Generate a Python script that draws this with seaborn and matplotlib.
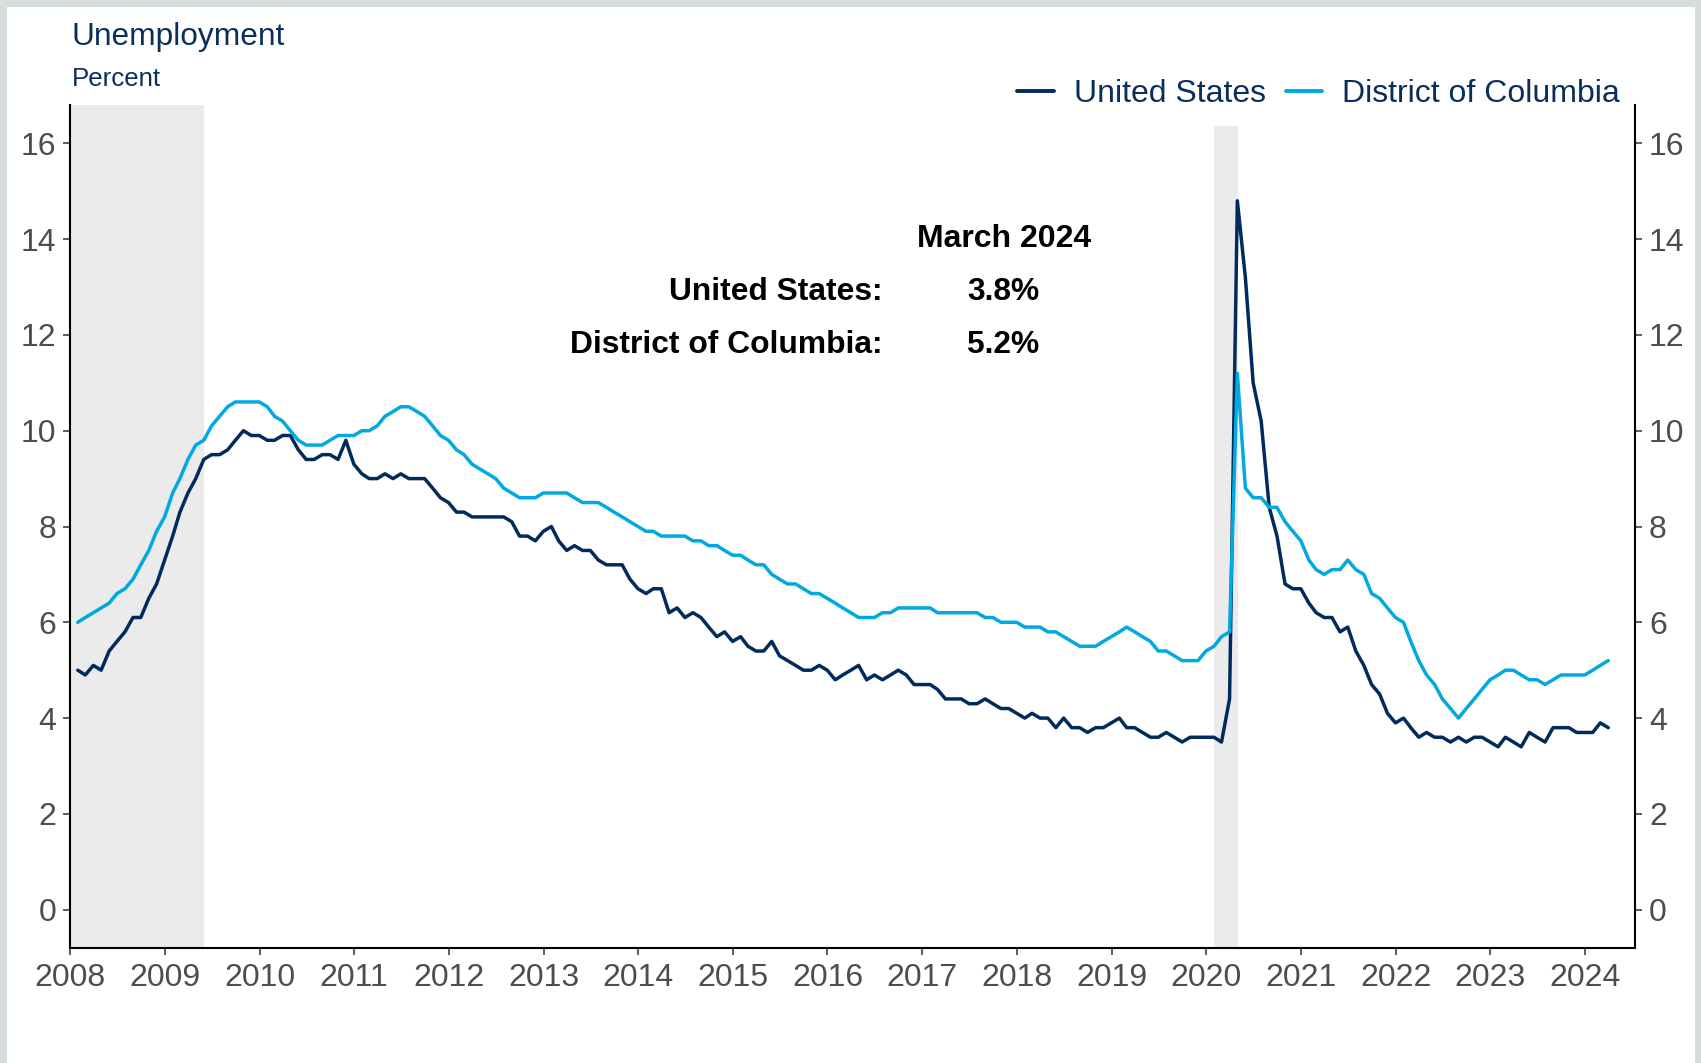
import numpy as np
import pandas as pd
import seaborn as sns
import matplotlib.pyplot as plt
from matplotlib.patches import Rectangle
import matplotlib.dates as mdates

# Monthly unemployment rate, percent, Jan 2008 - Mar 2024
us_rate = [
    5.0, 4.9, 5.1, 5.0, 5.4, 5.6, 5.8, 6.1, 6.1, 6.5, 6.8, 7.3,   # 2008
    7.8, 8.3, 8.7, 9.0, 9.4, 9.5, 9.5, 9.6, 9.8, 10.0, 9.9, 9.9,  # 2009
    9.8, 9.8, 9.9, 9.9, 9.6, 9.4, 9.4, 9.5, 9.5, 9.4, 9.8, 9.3,   # 2010
    9.1, 9.0, 9.0, 9.1, 9.0, 9.1, 9.0, 9.0, 9.0, 8.8, 8.6, 8.5,   # 2011
    8.3, 8.3, 8.2, 8.2, 8.2, 8.2, 8.2, 8.1, 7.8, 7.8, 7.7, 7.9,   # 2012
    8.0, 7.7, 7.5, 7.6, 7.5, 7.5, 7.3, 7.2, 7.2, 7.2, 6.9, 6.7,   # 2013
    6.6, 6.7, 6.7, 6.2, 6.3, 6.1, 6.2, 6.1, 5.9, 5.7, 5.8, 5.6,   # 2014
    5.7, 5.5, 5.4, 5.4, 5.6, 5.3, 5.2, 5.1, 5.0, 5.0, 5.1, 5.0,   # 2015
    4.8, 4.9, 5.0, 5.1, 4.8, 4.9, 4.8, 4.9, 5.0, 4.9, 4.7, 4.7,   # 2016
    4.7, 4.6, 4.4, 4.4, 4.4, 4.3, 4.3, 4.4, 4.3, 4.2, 4.2, 4.1,   # 2017
    4.0, 4.1, 4.0, 4.0, 3.8, 4.0, 3.8, 3.8, 3.7, 3.8, 3.8, 3.9,   # 2018
    4.0, 3.8, 3.8, 3.7, 3.6, 3.6, 3.7, 3.6, 3.5, 3.6, 3.6, 3.6,   # 2019
    3.6, 3.5, 4.4, 14.8, 13.2, 11.0, 10.2, 8.4, 7.8, 6.8, 6.7, 6.7,  # 2020
    6.4, 6.2, 6.1, 6.1, 5.8, 5.9, 5.4, 5.1, 4.7, 4.5, 4.1, 3.9,   # 2021
    4.0, 3.8, 3.6, 3.7, 3.6, 3.6, 3.5, 3.6, 3.5, 3.6, 3.6, 3.5,   # 2022
    3.4, 3.6, 3.5, 3.4, 3.7, 3.6, 3.5, 3.8, 3.8, 3.8, 3.7, 3.7,   # 2023
    3.7, 3.9, 3.8,                                                # 2024
]

dc_rate = [
    6.0, 6.1, 6.2, 6.3, 6.4, 6.6, 6.7, 6.9, 7.2, 7.5, 7.9, 8.2,   # 2008
    8.7, 9.0, 9.4, 9.7, 9.8, 10.1, 10.3, 10.5, 10.6, 10.6, 10.6, 10.6,  # 2009
    10.5, 10.3, 10.2, 10.0, 9.8, 9.7, 9.7, 9.7, 9.8, 9.9, 9.9, 9.9,  # 2010
    10.0, 10.0, 10.1, 10.3, 10.4, 10.5, 10.5, 10.4, 10.3, 10.1, 9.9, 9.8,  # 2011
    9.6, 9.5, 9.3, 9.2, 9.1, 9.0, 8.8, 8.7, 8.6, 8.6, 8.6, 8.7,   # 2012
    8.7, 8.7, 8.7, 8.6, 8.5, 8.5, 8.5, 8.4, 8.3, 8.2, 8.1, 8.0,   # 2013
    7.9, 7.9, 7.8, 7.8, 7.8, 7.8, 7.7, 7.7, 7.6, 7.6, 7.5, 7.4,   # 2014
    7.4, 7.3, 7.2, 7.2, 7.0, 6.9, 6.8, 6.8, 6.7, 6.6, 6.6, 6.5,   # 2015
    6.4, 6.3, 6.2, 6.1, 6.1, 6.1, 6.2, 6.2, 6.3, 6.3, 6.3, 6.3,   # 2016
    6.3, 6.2, 6.2, 6.2, 6.2, 6.2, 6.2, 6.1, 6.1, 6.0, 6.0, 6.0,   # 2017
    5.9, 5.9, 5.9, 5.8, 5.8, 5.7, 5.6, 5.5, 5.5, 5.5, 5.6, 5.7,   # 2018
    5.8, 5.9, 5.8, 5.7, 5.6, 5.4, 5.4, 5.3, 5.2, 5.2, 5.2, 5.4,   # 2019
    5.5, 5.7, 5.8, 11.2, 8.8, 8.6, 8.6, 8.4, 8.4, 8.1, 7.9, 7.7,  # 2020
    7.3, 7.1, 7.0, 7.1, 7.1, 7.3, 7.1, 7.0, 6.6, 6.5, 6.3, 6.1,   # 2021
    6.0, 5.6, 5.2, 4.9, 4.7, 4.4, 4.2, 4.0, 4.2, 4.4, 4.6, 4.8,   # 2022
    4.9, 5.0, 5.0, 4.9, 4.8, 4.8, 4.7, 4.8, 4.9, 4.9, 4.9, 4.9,   # 2023
    5.0, 5.1, 5.2,                                                # 2024
]

series_names = ["United States", "District of Columbia"]
series_colors = ["#002b5c", "#00a9e0"]
recessions = [("2007-12-01", "2009-06-01"), ("2020-02-01", "2020-05-01")]
latest_label = "March 2024"

dates = pd.date_range("2008-01-01", periods=len(us_rate), freq="ME")
df = pd.concat([
    pd.DataFrame({"date": dates, "rate": us_rate, "series": series_names[0]}),
    pd.DataFrame({"date": dates, "rate": dc_rate, "series": series_names[1]}),
])

sns.set_style("white")
plt.rcParams["font.family"] = ["Liberation Sans", "DejaVu Sans"]

W, H = 1701, 1063
fig = plt.figure(figsize=(W / 100, H / 100), dpi=100, facecolor="#d7dddc")
fig.add_artist(Rectangle((7 / W, 0), (1695 - 7) / W, 1 - 7 / H,
                         transform=fig.transFigure, facecolor="white",
                         edgecolor="none", zorder=0))

ax = fig.add_axes([70 / W, 1 - 948 / H, (1635 - 70) / W, (948 - 105) / H])
ax.set_facecolor("white")

# recession shading
ax.axvspan(pd.Timestamp(recessions[0][0]), pd.Timestamp(recessions[0][1]),
           color="#ebebeb", lw=0, zorder=0)
ax.axvspan(pd.Timestamp(recessions[1][0]), pd.Timestamp(recessions[1][1]),
           ymin=0, ymax=(16.36 + 0.8) / 17.6, color="#ebebeb", lw=0, zorder=0)

sns.lineplot(data=df, x="date", y="rate", hue="series",
             palette=dict(zip(series_names, series_colors)),
             linewidth=2.5, ax=ax, zorder=3)

ax.set_xlim(pd.Timestamp("2008-01-01"), pd.Timestamp("2024-07-12"))
ax.set_ylim(-0.8, 16.8)
ax.set_yticks(np.arange(0, 17, 2))
ax.xaxis.set_major_locator(mdates.YearLocator())
ax.xaxis.set_major_formatter(mdates.DateFormatter("%Y"))
ax.set_xlabel("")
ax.set_ylabel("")

for side in ["left", "right", "bottom"]:
    ax.spines[side].set_visible(True)
    ax.spines[side].set_linewidth(1.5)
    ax.spines[side].set_color("black")
ax.spines["top"].set_visible(False)

ax.tick_params(axis="both", which="major", length=5, width=1.1, color="#333333",
               labelsize=23, labelcolor="#4d4d4d")
ax.tick_params(axis="y", left=True, right=True, labelleft=True, labelright=True, pad=5)
ax.tick_params(axis="x", bottom=True, pad=6)

handles, labels = ax.get_legend_handles_labels()
leg = ax.legend(handles, labels, loc="center right", ncol=2, frameon=False,
                bbox_to_anchor=(1620 / W, 1 - 94 / H), bbox_transform=fig.transFigure,
                fontsize=23, handlelength=1.15, handletextpad=0.62,
                columnspacing=0.62, borderpad=0, borderaxespad=0)
for line in leg.get_lines():
    line.set_linewidth(2.8)
for t in leg.get_texts():
    t.set_color("#0b2f5b")

navy = "#0b2f5b"
fig.text(72 / W, 1 - 45 / H, "Unemployment", fontsize=22.8, color=navy, va="baseline")
fig.text(72 / W, 1 - 86 / H, "Percent", fontsize=18.6, color=navy, va="baseline")

fig.text(1004 / W, 1 - 247 / H, latest_label, fontsize=23, fontweight="bold",
         color="black", ha="center", va="baseline")
rows = [(series_names[0] + ":", us_rate[-1], 300), (series_names[1] + ":", dc_rate[-1], 353)]
for name, val, yb in rows:
    fig.text(882 / W, 1 - yb / H, name, fontsize=22.9, fontweight="bold",
             color="black", ha="right", va="baseline")
    fig.text(1003 / W, 1 - yb / H, f"{val:.1f}%", fontsize=22.9, fontweight="bold",
             color="black", ha="center", va="baseline")

fig.savefig("out.png", dpi=100, facecolor=fig.get_facecolor())
